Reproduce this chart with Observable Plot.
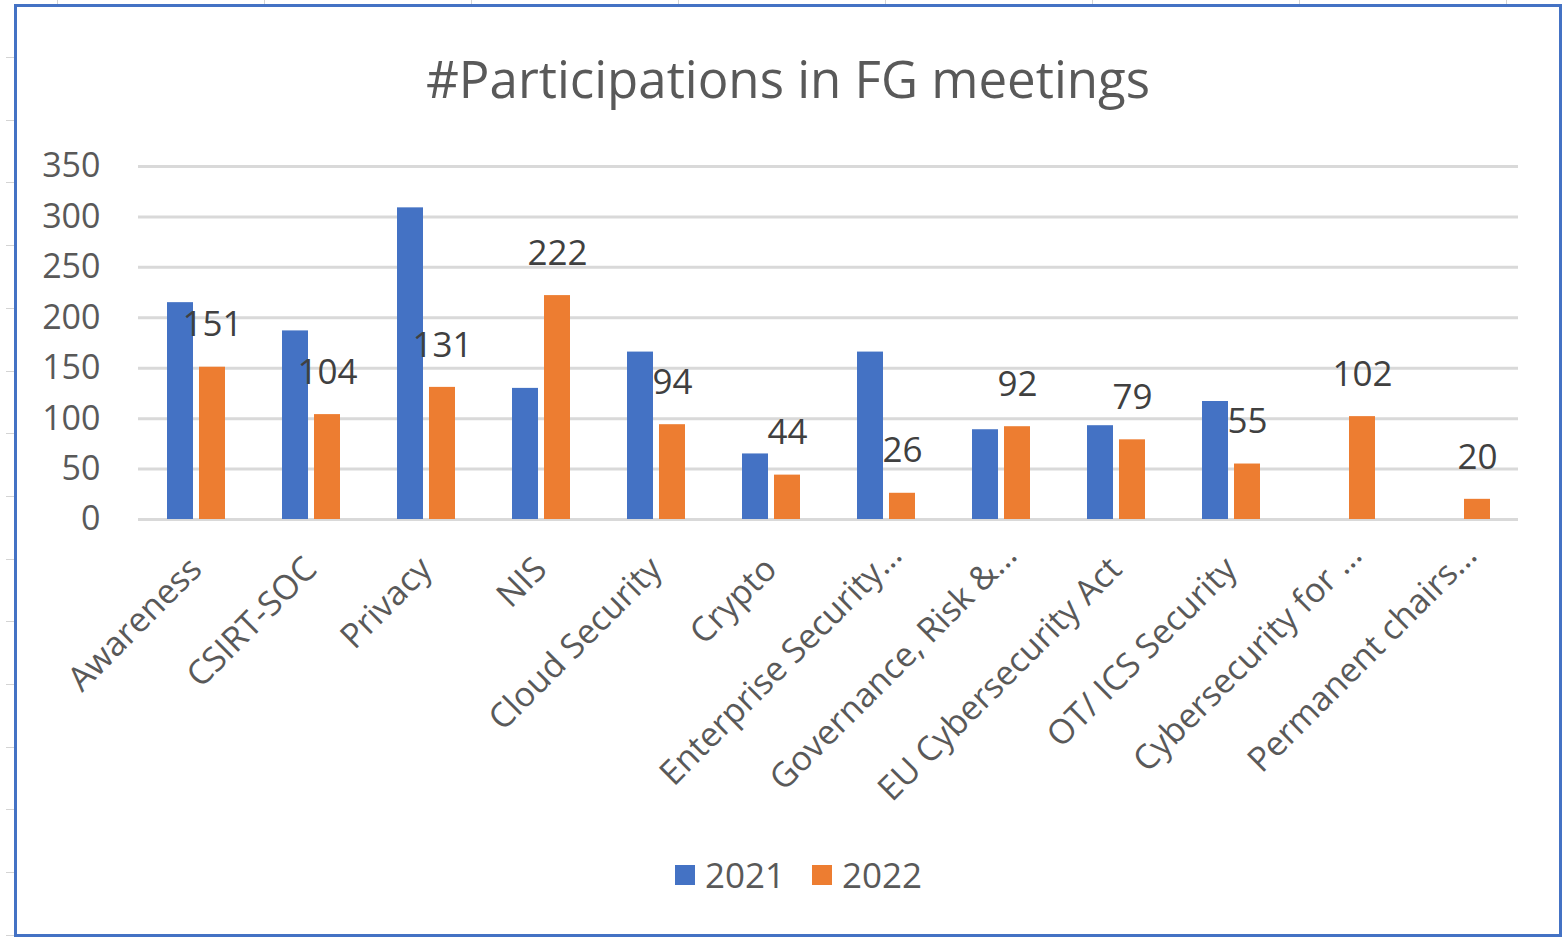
<!DOCTYPE html>
<html><head><meta charset="utf-8">
<script src="https://cdn.jsdelivr.net/npm/d3@7"></script>
<script src="https://cdn.jsdelivr.net/npm/@observablehq/plot@0.6"></script>
<style>
body{margin:0;background:#fff;font-family:"Open Sans",sans-serif;}
#root{position:relative;width:1563px;height:937px;overflow:hidden;background:#fff;}
#frame{position:absolute;left:14px;top:4px;width:1548px;height:933px;border:3px solid #4472C4;box-sizing:border-box;}
#title{position:absolute;left:14px;width:1548px;top:46px;text-align:center;font-size:51px;color:#595959;line-height:64px;z-index:3;}
#chart{position:absolute;left:0;top:0;z-index:2;}
#legend{position:absolute;left:38px;width:1548px;top:851px;display:flex;justify-content:center;z-index:3;}
#legend [class*="swatch"]:not([class*="swatches"]){margin-right:27px !important;}
#legend svg{margin-right:10px !important;}
.deco{position:absolute;background:#d4d4d4;}
</style></head><body>
<div id="root"><div id="frame"></div><div id="chart"></div><div id="title">#Participations in FG meetings</div><div id="legend"></div></div>
<script>
const categories = ["Awareness","CSIRT-SOC","Privacy","NIS","Cloud Security","Crypto","Enterprise Security…","Governance, Risk &…","EU Cybersecurity Act","OT/ ICS Security","Cybersecurity for …","Permanent chairs…"];
const years = ["2021","2022"];
const values2021 = [215,187,309,130,166,65,166,89,93,117,null,null];
const values2022 = [151,104,131,222,94,44,26,92,79,55,102,20];
const yTicks = [0,50,100,150,200,250,300,350];
const colors = ["#4472C4","#ED7D31"];

const rows = [];
categories.forEach((c,i)=>{
  if (values2021[i] != null) rows.push({category:c, year:"2021", value:values2021[i]});
  if (values2022[i] != null) rows.push({category:c, year:"2022", value:values2022[i]});
});
const rows2022 = rows.filter(d=>d.year==="2022");
const truncated = categories.filter(c=>c.endsWith("…"));
const full = categories.filter(c=>!c.endsWith("…"));

// spreadsheet background decoration
const root = document.getElementById("root");
for (let i=0;i<8;i++){const d=document.createElement("div");d.className="deco";d.style.cssText=`left:${57+207*i}px;top:0;width:1px;height:4px;`;root.appendChild(d);}
for (let i=0;i<15;i++){const d=document.createElement("div");d.className="deco";d.style.cssText=`left:6px;top:${57+62.7*i}px;width:8px;height:1px;`;root.appendChild(d);}

const labelOpts = {fx:d=>d, text:d=>d, frameAnchor:"bottom", rotate:-45, textAnchor:"end", lineAnchor:"middle", fill:"#595959", fontSize:34};
const chart = Plot.plot({
  width:1563, height:800,
  marginTop:166, marginLeft:138, marginRight:45, marginBottom:281,
  style:{background:"transparent", fontFamily:"Open Sans", fontSize:"34px", color:"#595959", overflow:"visible"},
  fx:{domain:categories, padding:0, axis:null},
  x:{domain:years, paddingInner:0.1875, paddingOuter:0.89, axis:null},
  y:{domain:[0,350], ticks:yTicks, label:null, tickSize:0, tickPadding:38},
  color:{domain:years, range:colors},
  marks:[
    Plot.gridY(yTicks, {stroke:"#d9d9d9", strokeWidth:3, strokeOpacity:1}),
    Plot.text(full, {...labelOpts, dy:44}),
    Plot.text(truncated, {...labelOpts, dx:10, dy:30}),
    Plot.barY(rows, {fx:"category", x:"year", y:"value", fill:"year"}),
    Plot.text(rows2022, {fx:"category", x:"year", y:"value", text:d=>String(d.value), dy:-42, fill:"#404040", fontSize:35})
  ]
});
document.getElementById("chart").appendChild(chart);

const legend = Plot.legend({color:{domain:years, range:colors}, legend:"swatches", swatchSize:20,
  style:{fontSize:"35px", fontFamily:"Open Sans", color:"#595959", background:"transparent"}});
document.getElementById("legend").appendChild(legend);
</script>
</body></html>
